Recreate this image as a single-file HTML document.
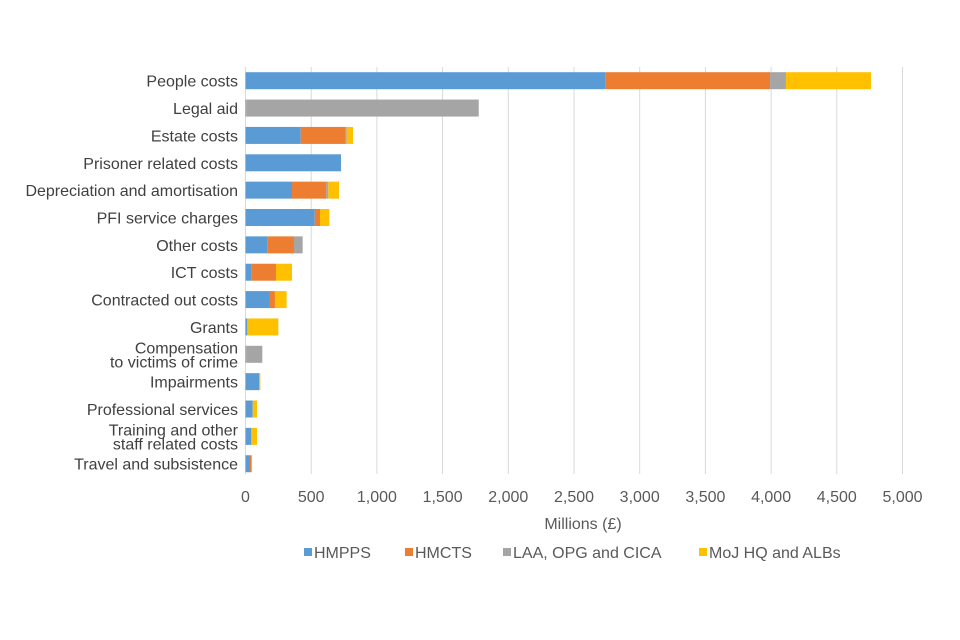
<!DOCTYPE html>
<html><head><meta charset="utf-8"><style>
body{margin:0;background:#fff;}
svg{display:block;font-family:"Liberation Sans",sans-serif;}
</style></head><body>
<svg id="chart" width="960" height="640"></svg>
<script>
const categories=["People costs","Legal aid","Estate costs","Prisoner related costs","Depreciation and amortisation","PFI service charges","Other costs","ICT costs","Contracted out costs","Grants","Compensation\nto victims of crime","Impairments","Professional services","Training and other\nstaff related costs","Travel and subsistence"];
const hmpps=[2741,5,420,727,354,527,169,47,186,14,5,105,55,44,34];
const hmcts=[1251,0,342,0,261,40,200,185,38,0,0,0,0,3,13];
const laa=[121,1770,8,0,15,0,66,0,0,0,123,0,0,0,0];
const moj=[647,0,48,0,82,71,0,122,89,236,0,8,33,41,0];
const ticks=[0,500,1000,1500,2000,2500,3000,3500,4000,4500,5000];
const tickLabels=["0","500","1,000","1,500","2,000","2,500","3,000","3,500","4,000","4,500","5,000"];
const seriesNames=["HMPPS","HMCTS","LAA, OPG and CICA","MoJ HQ and ALBs"];
const colors=["#5b9bd5","#ed7d31","#a5a5a5","#ffc000"];
const svg=document.getElementById('chart');
const NS="http://www.w3.org/2000/svg";
const x0=245.5,pxPer=0.1314,plotTop=67,plotBottom=474;
const xs=v=>x0+v*pxPer;
const rowH=27.36,firstY=80.7,barH=17;
const ys=i=>firstY+i*rowH;
function mk(t,a){const e=document.createElementNS(NS,t);for(const k in a)e.setAttribute(k,a[k]);svg.appendChild(e);return e;}
ticks.forEach((t,i)=>{
 const g=mk('line',{x1:xs(t),x2:xs(t),y1:plotTop,y2:plotBottom,stroke:'#d9d9d9','stroke-width':1});
 
 
 const l=mk('text',{x:xs(t),y:502,'text-anchor':'middle','font-size':16,fill:'#595959'});
 l.textContent=tickLabels[i];
 
 
});
const series=[hmpps,hmcts,laa,moj];
categories.forEach((c,i)=>{
 let acc=0;
 series.forEach((s,j)=>{
  const v=s[i]; if(v<=0)return;
  const r=mk('rect',{x:xs(acc),y:ys(i)-barH/2,width:v*pxPer,height:barH,fill:colors[j]});
  
  
  acc+=v;
 });
 const lines=c.split("\n");
 lines.forEach((ln,k)=>{
  const t=mk('text',{x:238,y:ys(i)+6+(lines.length>1?(k-0.5)*14:0),'text-anchor':'end','font-size':16,fill:'#404040'});
  t.textContent=ln;
  
  
 });
});
const at=mk('text',{x:583,y:529,'text-anchor':'middle','font-size':16,fill:'#595959'});
at.textContent="Millions (£)";


const legX=[304,405,503,699];
seriesNames.forEach((n,j)=>{
 const r=mk('rect',{x:legX[j],y:548,width:8,height:8,fill:colors[j]});
 
 
 const t=mk('text',{x:legX[j]+10,y:558,'font-size':16,fill:'#595959'});
 t.textContent=n;
 
 
});
</script>
</body></html>
